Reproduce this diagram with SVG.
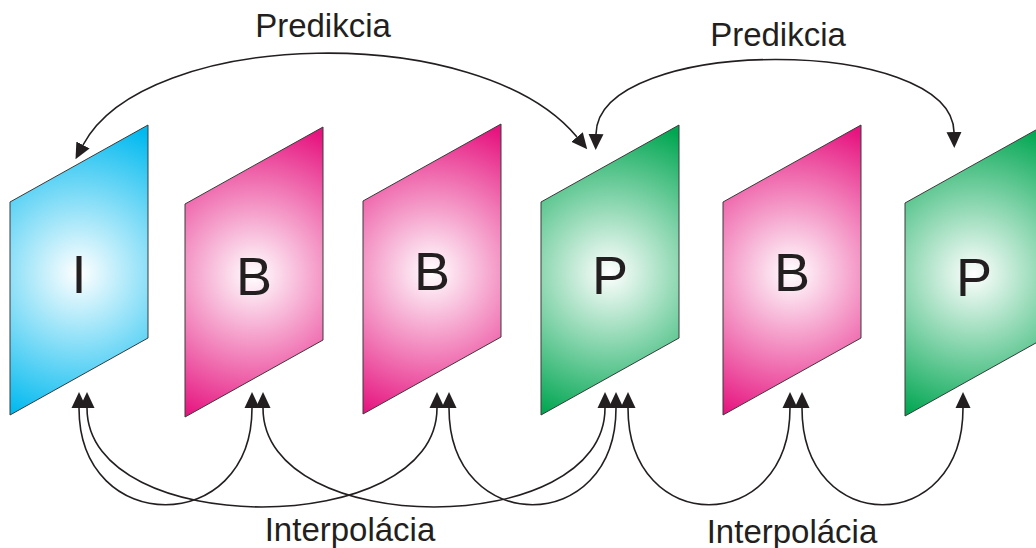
<svg xmlns="http://www.w3.org/2000/svg" xmlns:xlink="http://www.w3.org/1999/xlink" width="1036" height="548" viewBox="0 0 1036 548">
<style>
.frame{stroke:#3a3a3a;stroke-width:1}
.lbl{font-family:"Liberation Sans",Arial,sans-serif;font-size:54px;fill:#231f20;text-anchor:middle}
.cap{font-family:"Liberation Sans",Arial,sans-serif;font-size:33px;fill:#231f20;text-anchor:middle}
.conn{fill:none;stroke:#231f20;stroke-width:1.6;marker-start:url(#ah);marker-end:url(#ah)}
</style>
<defs>
<radialGradient id="gI" gradientUnits="userSpaceOnUse" cx="69" cy="148" r="155">
<stop offset="0" stop-color="#ffffff"/><stop offset="1" stop-color="#00b9ef"/>
</radialGradient>
<radialGradient id="gB" gradientUnits="userSpaceOnUse" cx="69" cy="148" r="155">
<stop offset="0" stop-color="#ffffff"/><stop offset="1" stop-color="#e6147f"/>
</radialGradient>
<radialGradient id="gP" gradientUnits="userSpaceOnUse" cx="69" cy="148" r="155">
<stop offset="0" stop-color="#ffffff"/><stop offset="1" stop-color="#00a651"/>
</radialGradient>
<path id="fr" d="M0,77 L138,0 L138,213 L0,290 Z"/>
<marker id="ah" viewBox="0 -8 16 16" refX="0" refY="0" markerWidth="16" markerHeight="16" markerUnits="userSpaceOnUse" orient="auto-start-reverse">
<path d="M0,-7.5 L16,0 L0,7.5 Z" fill="#231f20"/>
</marker>
</defs>
<rect width="1036" height="548" fill="#ffffff"/>
<g id="frame-I" transform="translate(10,125)">
<use xlink:href="#fr" href="#fr" class="frame" fill="url(#gI)"/>
<text class="lbl" x="69" y="168">I</text>
</g>
<g id="frame-B1" transform="translate(185,127)">
<use xlink:href="#fr" href="#fr" class="frame" fill="url(#gB)"/>
<text class="lbl" x="69" y="168">B</text>
</g>
<g id="frame-B2" transform="translate(363,124)">
<use xlink:href="#fr" href="#fr" class="frame" fill="url(#gB)"/>
<text class="lbl" x="69" y="166">B</text>
</g>
<g id="frame-P1" transform="translate(541,125)">
<use xlink:href="#fr" href="#fr" class="frame" fill="url(#gP)"/>
<text class="lbl" x="69" y="169">P</text>
</g>
<g id="frame-B3" transform="translate(723,125)">
<use xlink:href="#fr" href="#fr" class="frame" fill="url(#gB)"/>
<text class="lbl" x="69" y="166">B</text>
</g>
<g id="frame-P2" transform="translate(905,126)">
<use xlink:href="#fr" href="#fr" class="frame" fill="url(#gP)"/>
<text class="lbl" x="69" y="170">P</text>
</g>
<g id="connectors">
<path class="conn" d="M83,145 C145,28 480,20 577,137"/>
<path class="conn" d="M596,134 C598,35 952,35 954,132"/>
<path class="conn" d="M79,408 C79,537 252,537 252,408"/>
<path class="conn" d="M87,408 C87,540 437,540 437,408"/>
<path class="conn" d="M263,408 C263,540 605,540 605,408"/>
<path class="conn" d="M449,408 C449,537 616,537 616,408"/>
<path class="conn" d="M628,408 C628,537 790,537 790,408"/>
<path class="conn" d="M802,408 C802,537 963,537 963,408"/>
</g>
<g id="labels">
<text class="cap" x="323" y="37">Predikcia</text>
<text class="cap" x="778" y="46">Predikcia</text>
<text class="cap" x="350" y="541">Interpolácia</text>
<text class="cap" x="792" y="543">Interpolácia</text>
</g>
</svg>
